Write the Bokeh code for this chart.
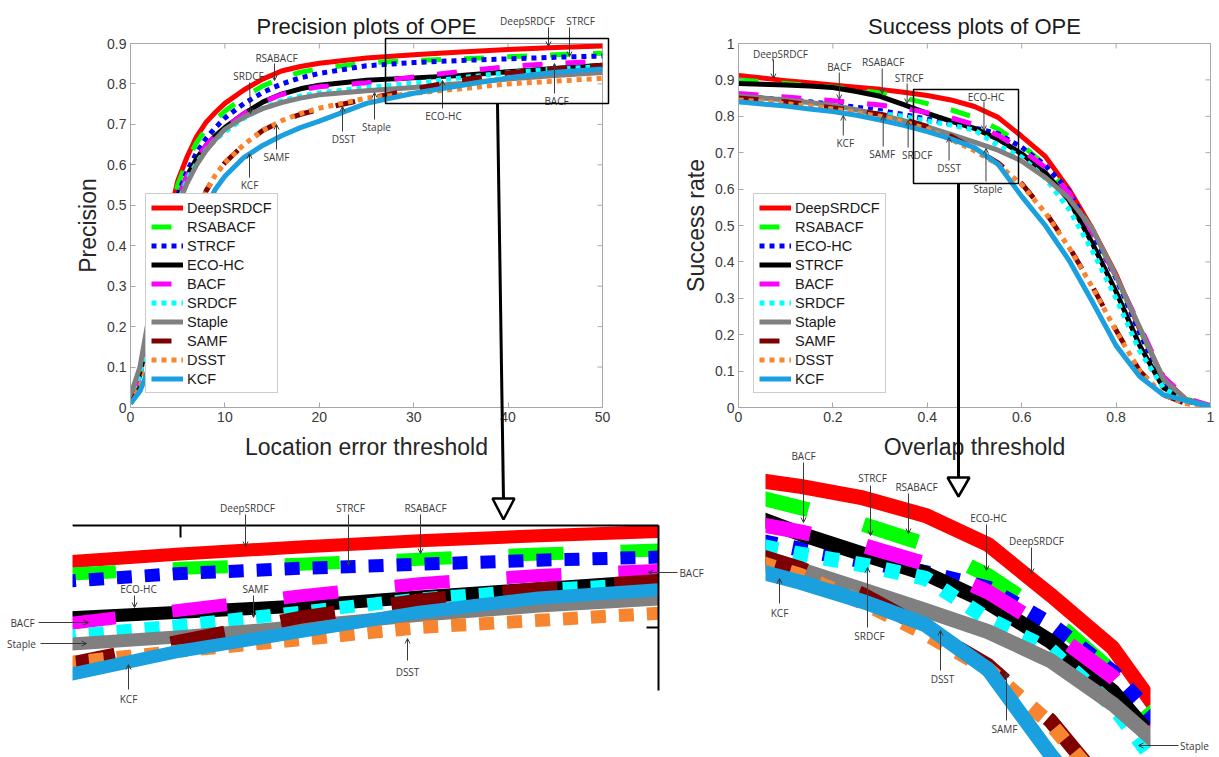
from bokeh.plotting import figure
from bokeh.layouts import column, row
from bokeh.models import (Range1d, FixedTicker, CustomJSTickFormatter, Legend, LegendItem,
                          Arrow, OpenHead, Label, BoxAnnotation, PolyAnnotation)
from bokeh.embed import file_html
from bokeh.resources import INLINE

# ---------------- data ----------------
prec_thresholds = [0, 1, 2, 3, 4, 5, 6, 7, 8, 9, 10, 12, 14, 16, 18, 20, 25, 30, 35, 40, 45, 50]
prec_deepsrdcf = [0.02, 0.09, 0.21, 0.34, 0.46, 0.56, 0.62, 0.67, 0.705, 0.73, 0.752, 0.785, 0.812, 0.832, 0.843, 0.851, 0.864, 0.872, 0.879, 0.885, 0.89, 0.894]
prec_rsabacf = [0.02, 0.09, 0.21, 0.34, 0.455, 0.55, 0.61, 0.655, 0.688, 0.712, 0.733, 0.767, 0.795, 0.815, 0.829, 0.838, 0.852, 0.858, 0.862, 0.867, 0.872, 0.876]
prec_strcf = [0.02, 0.08, 0.2, 0.32, 0.43, 0.525, 0.585, 0.63, 0.665, 0.692, 0.716, 0.751, 0.779, 0.8, 0.815, 0.826, 0.845, 0.853, 0.858, 0.862, 0.866, 0.869]
prec_ecohc = [0.02, 0.08, 0.2, 0.32, 0.425, 0.515, 0.573, 0.615, 0.648, 0.672, 0.692, 0.726, 0.755, 0.775, 0.788, 0.797, 0.809, 0.815, 0.821, 0.83, 0.838, 0.846]
prec_bacf = [0.02, 0.08, 0.2, 0.32, 0.425, 0.515, 0.573, 0.615, 0.648, 0.672, 0.692, 0.726, 0.755, 0.774, 0.785, 0.793, 0.803, 0.817, 0.831, 0.843, 0.851, 0.856]
prec_srdcf = [0.02, 0.08, 0.19, 0.31, 0.415, 0.505, 0.563, 0.605, 0.637, 0.662, 0.682, 0.715, 0.74, 0.758, 0.77, 0.778, 0.791, 0.802, 0.815, 0.828, 0.837, 0.843]
prec_staple = [0.03, 0.1, 0.23, 0.33, 0.42, 0.5, 0.555, 0.6, 0.635, 0.663, 0.688, 0.718, 0.739, 0.754, 0.765, 0.773, 0.783, 0.791, 0.801, 0.812, 0.821, 0.828]
prec_samf = [0.01, 0.05, 0.12, 0.19, 0.26, 0.33, 0.405, 0.475, 0.535, 0.575, 0.605, 0.65, 0.685, 0.708, 0.725, 0.737, 0.763, 0.787, 0.81, 0.827, 0.838, 0.846]
prec_dsst = [0.01, 0.05, 0.12, 0.19, 0.26, 0.33, 0.405, 0.475, 0.535, 0.575, 0.605, 0.65, 0.685, 0.709, 0.727, 0.74, 0.765, 0.777, 0.788, 0.8, 0.807, 0.814]
prec_kcf = [0.01, 0.04, 0.1, 0.17, 0.24, 0.31, 0.38, 0.44, 0.495, 0.54, 0.572, 0.618, 0.648, 0.672, 0.692, 0.708, 0.752, 0.777, 0.796, 0.815, 0.829, 0.837]

succ_thresholds = [0, 0.05, 0.1, 0.15, 0.2, 0.25, 0.3, 0.35, 0.4, 0.45, 0.5, 0.55, 0.6, 0.65, 0.7, 0.75, 0.8, 0.85, 0.9, 0.95, 1.0]
succ_deepsrdcf = [0.912, 0.905, 0.898, 0.892, 0.886, 0.88, 0.874, 0.866, 0.857, 0.845, 0.827, 0.797, 0.745, 0.69, 0.6, 0.49, 0.365, 0.215, 0.08, 0.02, 0.005]
succ_rsabacf = [0.9, 0.895, 0.89, 0.885, 0.88, 0.873, 0.864, 0.851, 0.835, 0.818, 0.797, 0.765, 0.722, 0.665, 0.59, 0.485, 0.36, 0.215, 0.08, 0.022, 0.005]
succ_ecohc = [0.855, 0.85, 0.845, 0.84, 0.833, 0.825, 0.816, 0.805, 0.792, 0.78, 0.768, 0.752, 0.715, 0.665, 0.595, 0.478, 0.355, 0.205, 0.068, 0.02, 0.004]
succ_strcf = [0.89, 0.888, 0.886, 0.883, 0.879, 0.868, 0.855, 0.832, 0.808, 0.787, 0.767, 0.737, 0.697, 0.645, 0.57, 0.45, 0.318, 0.17, 0.055, 0.018, 0.004]
succ_bacf = [0.863, 0.858, 0.853, 0.848, 0.843, 0.837, 0.831, 0.822, 0.81, 0.796, 0.777, 0.748, 0.708, 0.66, 0.59, 0.48, 0.36, 0.225, 0.085, 0.025, 0.005]
succ_srdcf = [0.84, 0.836, 0.832, 0.826, 0.82, 0.814, 0.808, 0.8, 0.787, 0.776, 0.762, 0.72, 0.688, 0.63, 0.545, 0.43, 0.3, 0.155, 0.055, 0.015, 0.004]
succ_staple = [0.855, 0.85, 0.845, 0.838, 0.83, 0.818, 0.804, 0.788, 0.771, 0.75, 0.729, 0.707, 0.677, 0.632, 0.575, 0.49, 0.36, 0.22, 0.078, 0.02, 0.004]
succ_samf = [0.85, 0.845, 0.84, 0.832, 0.823, 0.815, 0.806, 0.792, 0.772, 0.745, 0.71, 0.672, 0.615, 0.537, 0.442, 0.332, 0.212, 0.1, 0.035, 0.01, 0.003]
succ_dsst = [0.845, 0.84, 0.835, 0.828, 0.82, 0.81, 0.8, 0.785, 0.765, 0.737, 0.705, 0.668, 0.612, 0.535, 0.44, 0.33, 0.21, 0.1, 0.035, 0.01, 0.003]
succ_kcf = [0.84, 0.834, 0.828, 0.82, 0.813, 0.803, 0.79, 0.775, 0.758, 0.738, 0.714, 0.668, 0.58, 0.5, 0.405, 0.29, 0.17, 0.085, 0.035, 0.018, 0.003]

prec_names = ["DeepSRDCF", "RSABACF", "STRCF", "ECO-HC", "BACF", "SRDCF", "Staple", "SAMF", "DSST", "KCF"]
prec_series = [prec_deepsrdcf, prec_rsabacf, prec_strcf, prec_ecohc, prec_bacf,
               prec_srdcf, prec_staple, prec_samf, prec_dsst, prec_kcf]
succ_names = ["DeepSRDCF", "RSABACF", "ECO-HC", "STRCF", "BACF", "SRDCF", "Staple", "SAMF", "DSST", "KCF"]
succ_series = [succ_deepsrdcf, succ_rsabacf, succ_ecohc, succ_strcf, succ_bacf,
               succ_srdcf, succ_staple, succ_samf, succ_dsst, succ_kcf]

prec_xticks = [0, 10, 20, 30, 40, 50]
prec_yticks = [0, 0.1, 0.2, 0.3, 0.4, 0.5, 0.6, 0.7, 0.8, 0.9]
succ_xticks = [0, 0.2, 0.4, 0.6, 0.8, 1.0]
succ_yticks = [0, 0.1, 0.2, 0.3, 0.4, 0.5, 0.6, 0.7, 0.8, 0.9, 1.0]

# thresholds from which the left magnified view starts
prec_zoom_from = 25

# ---------------- styles ----------------
RANK_STYLE = [("#ff0000", "solid"), ("#00ff00", "dash"), ("#0000ff", "dot"),
              ("#000000", "solid"), ("#ff00ff", "dash"), ("#00ffff", "dot"),
              ("#808080", "solid"), ("#7f0000", "dash"), ("#f7852f", "dot"),
              ("#1a9fdf", "solid")]
DASH = {
    "main": {"solid": "solid", "dash": "20 23", "dot": "5 5"},
    "left": {"solid": "solid", "dash": "55 57", "dot": "15 13"},
    "right": {"solid": "solid", "dash": "57 57", "dot": "15 16"},
}
LW = {"main": 5, "left": 13, "right": 15}

FONT = "Liberation Sans"
NOTE_FONT = "Open Sans"
AXIS_GRAY = "#a8a8a8"
NOTE_COLOR = "#3a3a3a"

# page geometry: figure origin/size, frame extent, and two anchor pixels per axis.
# p3 / p4 are transparent full-height layers over the charts: they hold the
# magnified views plus every note that leaves a chart's frame.
PANELS = {
    "p1": dict(ox=0, oy=0, w=680, h=462, fx=(130, 602), fy=(43, 407),
               ax=((130, 0.0), (602, 50.0)), ay=((407, 0.0), (43, 0.9))),
    "p2": dict(ox=680, oy=0, w=539, h=462, fx=(737, 1210), fy=(43, 407),
               ax=((737, 0.0), (1210, 1.0)), ay=((407, 0.0), (43, 1.0))),
    "p3": dict(ox=0, oy=0, w=710, h=757, fx=(0, 710), fy=(0, 757),
               ax=((180, 30.0), (658, 50.0)), ay=((525, 0.9), (627, 0.8))),
    "p4": dict(ox=710, oy=0, w=509, h=757, fx=(765, 1219), fy=(0, 757),
               ax=((765, 0.372), (1150, 0.68)), ay=((466, 0.8775), (757, 0.577))),
}


def lin(anchors, pix):
    (p0, v0), (p1, v1) = anchors
    return v0 + (pix - p0) * (v1 - v0) / (p1 - p0)


def to_data(name, px, py):
    f = PANELS[name]
    return lin(f["ax"], px), lin(f["ay"], py)


def px_len_x(name, n):
    f = PANELS[name]
    return abs(lin(f["ax"], n) - lin(f["ax"], 0))


def px_len_y(name, n):
    f = PANELS[name]
    return abs(lin(f["ay"], n) - lin(f["ay"], 0))


def make_fig(name, transparent=False, **kw):
    f = PANELS[name]
    p = figure(width=f["w"], height=f["h"],
               x_range=Range1d(lin(f["ax"], f["fx"][0]), lin(f["ax"], f["fx"][1])),
               y_range=Range1d(lin(f["ay"], f["fy"][1]), lin(f["ay"], f["fy"][0])),
               x_axis_location=None if transparent else "below",
               y_axis_location=None if transparent else "left",
               min_border=0,
               min_border_left=f["fx"][0] - f["ox"],
               min_border_right=f["ox"] + f["w"] - f["fx"][1],
               min_border_top=f["fy"][0] - f["oy"],
               min_border_bottom=f["oy"] + f["h"] - f["fy"][1],
               toolbar_location=None, output_backend="svg", **kw)
    if transparent:
        p.background_fill_color = None
        p.border_fill_color = None
        p.outline_line_color = None
    else:
        p.background_fill_color = "white"
        p.border_fill_color = "white"
        p.outline_line_color = AXIS_GRAY
        p.outline_line_alpha = 1.0
    p.grid.visible = False
    return p


def style_axis(ax, ticks, label, standoff):
    ax.ticker = FixedTicker(ticks=ticks)
    ax.formatter = CustomJSTickFormatter(code="return String(Math.round(tick*100)/100);")
    ax.major_tick_in = 5
    ax.major_tick_out = 0
    ax.minor_tick_line_color = None
    ax.axis_line_color = AXIS_GRAY
    ax.major_tick_line_color = AXIS_GRAY
    ax.major_label_text_font = FONT
    ax.major_label_text_color = "#3a3a3a"
    ax.major_label_standoff = 4
    ax.major_label_text_font_size = "14px"
    ax.axis_label = label
    ax.axis_label_standoff = standoff
    ax.axis_label_text_font = FONT
    ax.axis_label_text_font_size = "23px"
    ax.axis_label_text_font_style = "normal"
    ax.axis_label_text_color = "#262626"


def main_panel(name, title, xlabel, ylabel, xticks, yticks, thresholds, names, series):
    p = make_fig(name, title=title)
    p.title.text_font = FONT
    p.title.text_font_size = "22px"
    p.title.text_font_style = "normal"
    p.title.text_color = "#1a1a1a"
    p.title.align = "center"
    p.title.standoff = 9
    style_axis(p.xaxis[0], xticks, xlabel, 9)
    style_axis(p.yaxis[0], yticks, ylabel, 3)
    # MATLAB "box on": inward ticks on the top and right frame edges
    xt, yt = xticks[-1], yticks[-1]
    dy = px_len_y(name, 5)
    dx = px_len_x(name, 5)
    p.segment(x0=xticks, y0=[yt] * len(xticks), x1=xticks, y1=[yt - dy] * len(xticks),
              line_color=AXIS_GRAY, line_width=1)
    p.segment(x0=[xt] * len(yticks), y0=yticks, x1=[xt - dx] * len(yticks), y1=yticks,
              line_color=AXIS_GRAY, line_width=1)
    items = []
    for (color, kind), nm, ys in zip(RANK_STYLE, names, series):
        r = p.line(thresholds, ys, line_color=color, line_width=LW["main"],
                   line_dash=DASH["main"][kind], line_join="round")
        items.append(LegendItem(label=nm, renderers=[r]))
    legend = Legend(items=items, location=(15, 14), border_line_color="#9a9a9a",
                    border_line_width=1, background_fill_color="white",
                    background_fill_alpha=1.0, label_text_font=FONT,
                    label_text_font_size="14.5px", label_text_color="#1a1a1a",
                    glyph_width=32, glyph_height=17, label_height=17, spacing=2,
                    padding=5, margin=0, label_standoff=4)
    p.add_layout(legend)
    return p


def inset_panel(name, thresholds, series, kind_key):
    p = make_fig(name, transparent=True)
    for (color, kind), ys in zip(RANK_STYLE, series):
        p.line(thresholds, ys, line_color=color, line_width=LW[kind_key],
               line_dash=DASH[kind_key][kind], line_join="round")
    return p


def mask(p, name, px0, py0, px1, py1):
    """white cover that crops the magnified curves to the zoom picture"""
    l, t = to_data(name, px0, py0)
    r, b = to_data(name, px1, py1)
    p.add_layout(BoxAnnotation(left=l, right=r, top=t, bottom=b, fill_color="white",
                               fill_alpha=1.0, line_color=None))


def callouts(p, name, notes):
    for text, tx, ty, ax0, ay0, ax1, ay1 in notes:
        x0, y0 = to_data(name, ax0, ay0)
        x1, y1 = to_data(name, ax1, ay1)
        p.add_layout(Arrow(end=OpenHead(size=5, line_width=1, line_color=NOTE_COLOR),
                           x_start=x0, y_start=y0, x_end=x1, y_end=y1,
                           line_width=1, line_color=NOTE_COLOR))
        lx, ly = to_data(name, tx, ty)
        p.add_layout(Label(x=lx, y=ly, text=text, text_align="center",
                           text_baseline="middle", text_font=NOTE_FONT,
                           text_font_size="10px", text_color=NOTE_COLOR))


def zoom_box(p, name, px0, py0, px1, py1):
    l, t = to_data(name, px0, py0)
    r, b = to_data(name, px1, py1)
    p.add_layout(BoxAnnotation(left=l, right=r, top=t, bottom=b, fill_alpha=0,
                               line_color="black", line_width=1.5, line_alpha=1.0))


def big_arrow(p, name, px0, py0, px1, py1, half, head_len):
    x0, y0 = to_data(name, px0, py0)
    x1, y1 = to_data(name, px1, py1 - head_len + 2)
    p.add_layout(Arrow(end=None, x_start=x0, y_start=y0, x_end=x1, y_end=y1,
                       line_width=3, line_color="black"))
    pts = [to_data(name, px1 - half, py1 - head_len), to_data(name, px1 + half, py1 - head_len),
           to_data(name, px1, py1)]
    p.add_layout(PolyAnnotation(xs=[q[0] for q in pts], ys=[q[1] for q in pts],
                                fill_color="white", fill_alpha=1.0, line_color="black",
                                line_alpha=1.0, line_width=2.5))


# ---------------- charts ----------------
p1 = main_panel("p1", "Precision plots of OPE", "Location error threshold", "Precision",
                prec_xticks, prec_yticks, prec_thresholds, prec_names, prec_series)
p2 = main_panel("p2", "Success plots of OPE", "Overlap threshold", "Success rate",
                succ_xticks, succ_yticks, succ_thresholds, succ_names, succ_series)

callouts(p1, "p1", [
    ("RSABACF", 276, 57, 274, 63, 274, 80),
    ("SRDCF", 248, 75, 249, 82, 250, 113),
    ("BACF", 556, 100, 554, 93, 554, 63),
    ("ECO-HC", 443, 115, 442, 108, 442, 80),
    ("Staple", 376, 126, 374, 119, 374, 92),
    ("DSST", 343, 138, 342, 131, 342, 106),
    ("SAMF", 276, 156, 276, 149, 276, 124),
    ("KCF", 249, 184, 249, 177, 249, 153),
])
callouts(p2, "p2", [
    ("DeepSRDCF", 779, 53, 772, 59, 772, 78),
    ("BACF", 838, 66, 838, 72, 838, 99),
    ("RSABACF", 882, 61, 881, 68, 881, 93),
    ("STRCF", 908, 77, 906, 83, 906, 103),
    ("ECO-HC", 985, 96, 983, 101, 983, 130),
    ("KCF", 844, 142, 842, 135, 842, 115),
    ("SAMF", 881, 153, 882, 146, 882, 115),
    ("SRDCF", 916, 154, 907, 147, 907, 120),
    ("DSST", 948, 167, 948, 160, 948, 137),
    ("Staple", 987, 188, 985, 181, 985, 148),
])

# ---------------- magnified views (transparent layers) ----------------
k = prec_thresholds.index(prec_zoom_from)
p3 = inset_panel("p3", prec_thresholds[k:], [s[k:] for s in prec_series], "left")
p4 = inset_panel("p4", succ_thresholds, succ_series, "right")

# crop of the left zoom picture, with its top/right frame lines and one tick each
mask(p3, "p3", -20, 525, 72, 760)
fx0, fy0 = to_data("p3", 72, 525)
fx1, fy1 = to_data("p3", 658, 690)
tick_x = 30.0
tick_y = 0.8
p3.segment(x0=[fx0, fx1, tick_x, fx1], y0=[fy0, fy0, fy0, tick_y],
           x1=[fx1, fx1, tick_x, fx1 - px_len_x("p3", 12)],
           y1=[fy0, fy1, fy0 - px_len_y("p3", 12), tick_y],
           line_color="black", line_width=2)

# crop of the right zoom picture
mask(p4, "p4", 1150, 640, 1240, 760)

callouts(p3, "p3", [
    ("DeepSRDCF", 527, 20, 548, 27, 548, 46),
    ("STRCF", 580, 20, 569, 27, 569, 56),
    ("DeepSRDCF", 247, 507, 245, 514, 245, 546),
    ("STRCF", 350, 507, 348, 514, 348, 565),
    ("RSABACF", 425, 507, 420, 514, 420, 553),
    ("ECO-HC", 138, 588, 134, 595, 134, 607),
    ("SAMF", 255, 588, 253, 595, 253, 617),
    ("BACF", 22, 622, 38, 622, 88, 622),
    ("Staple", 21, 643, 40, 643, 86, 643),
    ("KCF", 128, 698, 128, 689, 128, 664),
    ("DSST", 407, 671, 407, 660, 407, 638),
    ("BACF", 691, 572, 677, 572, 648, 572),
])
callouts(p4, "p4", [
    ("BACF", 803, 455, 803, 462, 803, 522),
    ("STRCF", 872, 477, 870, 485, 870, 535),
    ("RSABACF", 916, 486, 908, 493, 908, 533),
    ("ECO-HC", 988, 517, 986, 524, 986, 570),
    ("DeepSRDCF", 1036, 540, 1031, 547, 1031, 573),
    ("KCF", 779, 612, 779, 603, 779, 578),
    ("SRDCF", 869, 635, 867, 627, 867, 567),
    ("DSST", 942, 678, 940, 670, 940, 630),
    ("SAMF", 1004, 728, 1006, 720, 1006, 672),
    ("Staple", 1194, 745, 1178, 745, 1138, 745),
])

# zoom rectangles and the big arrows that lead to the magnified pictures
zoom_box(p3, "p3", 385, 38, 608, 103)
zoom_box(p4, "p4", 913, 89, 1018, 183)
big_arrow(p3, "p3", 497, 103, 503, 519, 11, 21)
big_arrow(p4, "p4", 958, 183, 958, 496, 11, 19)

layout = column(row(p1, p2), row(p3, p4, margin=(-462, 0, 0, 0)))

with open("out.html", "w") as fh:
    fh.write(file_html(layout, INLINE))
